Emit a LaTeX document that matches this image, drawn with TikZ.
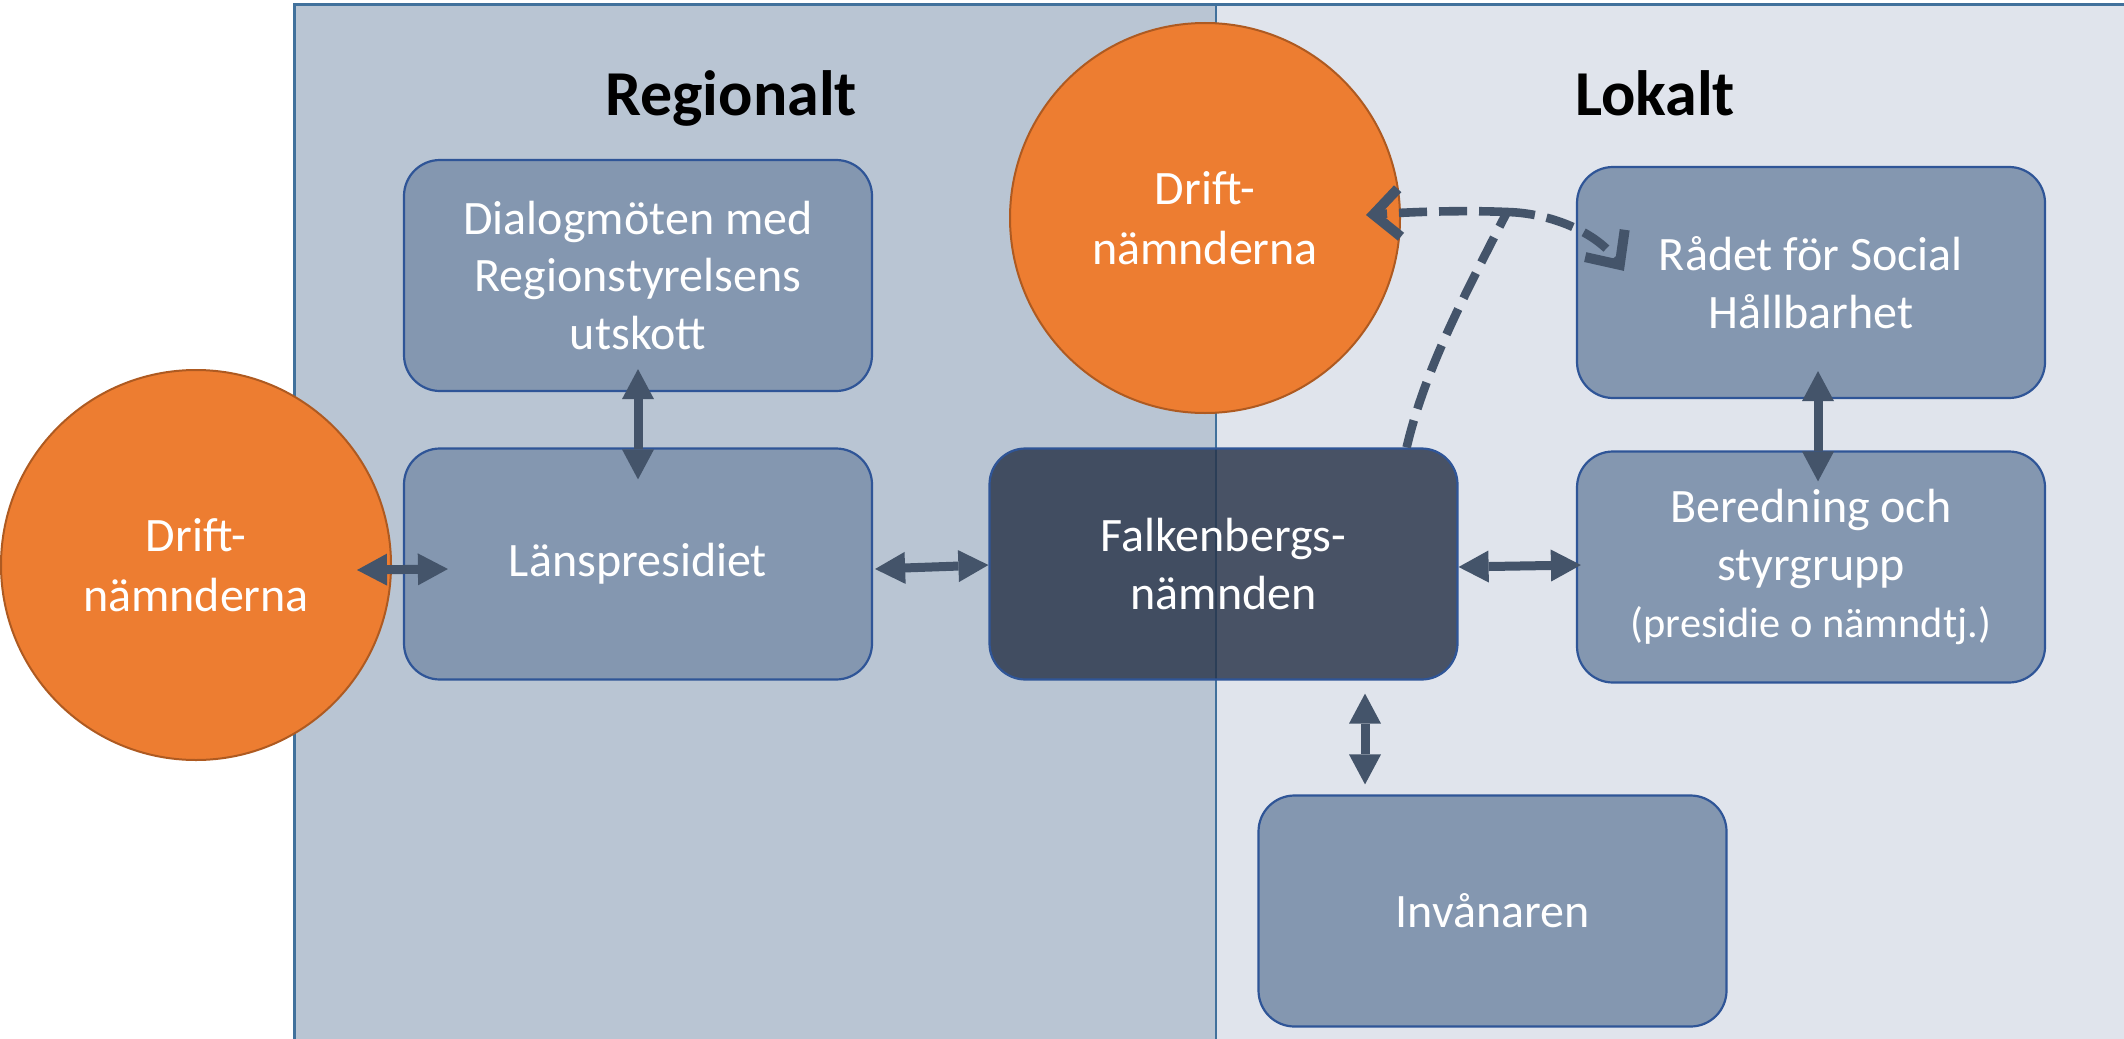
\documentclass[tikz,border=0pt]{standalone}
\usepackage{fontspec}
\setmainfont{Carlito}
\usetikzlibrary{arrows.meta,calc}
\definecolor{leftbg}{HTML}{B9C5D3}
\definecolor{rightbg}{HTML}{E0E4EC}
\definecolor{boxfill}{HTML}{8497B0}
\definecolor{boxline}{HTML}{2F5597}
\definecolor{panelline}{HTML}{41719C}
\definecolor{orangefill}{HTML}{ED7D31}
\definecolor{orangeline}{HTML}{AE5A21}
\definecolor{arrowcol}{HTML}{44546A}
\definecolor{darkfill}{RGB}{39,51,72}
\begin{document}
\begin{tikzpicture}[x=0.5pt,y=-0.5pt,
  bx/.style={rectangle, rounded corners=18pt, draw=boxline, line width=1.1pt,
    fill=boxfill, minimum width=234pt, minimum height=115.5pt, inner sep=0pt,
    align=center, text=white, font=\fontsize{24}{28.8}\selectfont},
  darkbx/.style={bx, fill=darkfill, fill opacity=0.82, text opacity=1, draw opacity=1},
  orb/.style={circle, draw=orangeline, line width=1pt, fill=orangefill,
    minimum size=195pt, inner sep=0pt, align=center, text=white,
    font=\fontsize{24}{29.8}\selectfont},
  ttl/.style={anchor=base, font=\fontsize{32}{38}\selectfont\bfseries, text=black, inner sep=0pt},
  dbl/.style={draw=arrowcol, line width=4.5pt,
    {Triangle[length=15pt,width=16pt,line width=0pt]}-{Triangle[length=15pt,width=16pt,line width=0pt]}},
  dsh/.style={draw=arrowcol, line width=4.3pt, dash pattern=on 14pt off 6pt},
  barb/.style={-{Straight Barb[length=13pt,width=24pt,line width=5pt,line join=miter]}}
]
\path[use as bounding box] (0,0) rectangle (2124,1038);
\clip (0,0) rectangle (2124,1038);
% panels
\fill[leftbg] (294,5) rectangle (1216,1045);
\fill[rightbg] (1216,5) rectangle (2130,1045);
\draw[panelline, line width=1.5pt] (294,1045) -- (294,5) -- (2130,5);
\draw[panelline, line width=1pt] (1216,5) -- (1216,1045);
% titles
\node[ttl] (treg) at (731,116) {Regionalt};
\node[ttl] (tlok) at (1655,116) {Lokalt};
% circles
\node[orb] (dn1) at (196,565) {Drift-\\nämnderna};
\node[orb] (dn2) at (1205,218) {Drift-\\nämnderna};
% boxes
\node[bx] (dial) at (638,275.5) {Dialogmöten med\\Regionstyrelsens\\utskott};
\node[bx] (lan) at (638,564) {Länspresidiet};
\node[darkbx] (falk) at (1223.5,564) {Falkenbergs-\\nämnden};
\node[bx] (rad) at (1811,282.5) {Rådet för Social\\Hållbarhet};
\node[bx] (ber) at (1811,567) {Beredning och\\styrgrupp\\{\fontsize{21.2}{28.8}\selectfont (presidie o nämndtj.)}};
\node[bx] (inv) at (1492.5,911) {Invånaren};
% double arrows
\draw[dbl] ($(dn1.east)+(-35,5)$) -- ($(lan.west)+(45,5)$);
\draw[dbl] ($(lan.east)+(2,5)$) -- ($(falk.west)+(0,1)$);
\draw[dbl] ($(dial.south)+(0,-23)$) -- ($(lan.north)+(0,32)$);
\draw[dbl] ($(falk.east)+(0,3)$) -- ($(ber.west)+(5,-2)$);
\draw[dbl] ($(rad.south)+(7,-28)$) -- ($(ber.north)+(7,31)$);
\draw[dbl] ($(falk.south)+(141.5,13)$) -- ($(inv.north)+(-127.5,-10)$);
% dashed connectors
\coordinate (fk) at ($(falk.north east)+(-52,0)$);
\coordinate (jn) at (1507,212);
\coordinate (t1) at ($(dn2.east)+(-35,-3)$);
\coordinate (t2) at ($(rad.north west)+(48,105)$);
\draw[dsh] (fk) .. controls (1425,370) and (1462,300) .. (jn);
\draw[dsh, barb] (jn) .. controls (1460,210) and (1410,212) .. (t1);
\draw[dsh, barb] (jn) .. controls (1550,213) and (1597,232) .. (t2);
\end{tikzpicture}
\end{document}
